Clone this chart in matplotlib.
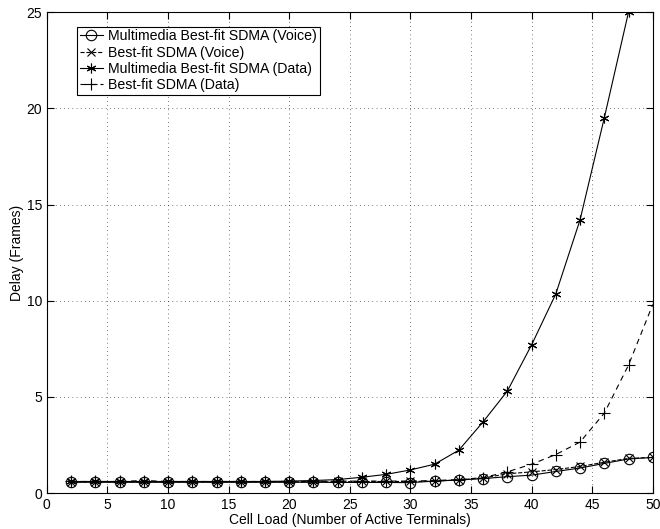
import numpy as np
import matplotlib.pyplot as plt

plt.rcParams['font.family'] = ['Liberation Sans', 'DejaVu Sans']

load = [2, 4, 6, 8, 10, 12, 14, 16, 18, 20, 22, 24, 26, 28, 30, 32, 34, 36, 38, 40, 42, 44, 46, 48, 50]

mm_voice = [0.56, 0.56, 0.56, 0.56, 0.56, 0.56, 0.56, 0.56, 0.56, 0.56, 0.56, 0.55, 0.55, 0.55, 0.54,
            0.62, 0.68, 0.75, 0.85, 0.93, 1.12, 1.3, 1.54, 1.77, 1.85]
bf_voice = [0.58, 0.58, 0.58, 0.58, 0.58, 0.58, 0.58, 0.58, 0.58, 0.58, 0.58, 0.58, 0.6, 0.6, 0.6,
            0.62, 0.68, 0.78, 1.0, 1.1, 1.22, 1.38, 1.6, 1.8, 1.85]
load_mm_data = load[:-1]
mm_data = [0.6, 0.6, 0.6, 0.6, 0.6, 0.6, 0.6, 0.6, 0.6, 0.62, 0.65, 0.7, 0.82, 0.97, 1.2,
           1.5, 2.23, 3.7, 5.3, 7.7, 10.35, 14.2, 19.5, 25.0]
bf_data = [0.6, 0.6, 0.6, 0.65, 0.6, 0.6, 0.6, 0.6, 0.6, 0.6, 0.6, 0.62, 0.62, 0.62, 0.62,
           0.65, 0.7, 0.8, 1.1, 1.5, 2.0, 2.65, 4.15, 6.65, 9.8]

fig = plt.figure(figsize=(6.6, 5.29), dpi=100)
ax = fig.add_axes([0.071, 0.068, 0.918, 0.909])

asterisk = (6, 2, 0)
ax.plot(load, mm_voice, '-', color='black', lw=0.8, marker='o', mfc='none', ms=7.5, mew=0.8,
        label='Multimedia Best-fit SDMA (Voice)')
ax.plot(load, bf_voice, '--', color='black', lw=0.8, marker='x', ms=5.5, mew=0.8,
        label='Best-fit SDMA (Voice)')
ax.plot(load_mm_data, mm_data, '-', color='black', lw=0.8, marker=asterisk, ms=7, mew=0.8,
        label='Multimedia Best-fit SDMA (Data)')
ax.plot(load, bf_data, '--', color='black', lw=0.8, marker='+', ms=9, mew=0.8,
        label='Best-fit SDMA (Data)', dashes=(5, 4))

ax.set_xlim(0, 50)
ax.set_ylim(0, 25)
ax.set_xticks(np.arange(0, 51, 5))
ax.set_yticks(np.arange(0, 26, 5))
ax.tick_params(direction='in', top=True, right=True, labelsize=10, length=5)
ax.grid(True, linestyle=(0, (1, 5)), color='black', lw=0.5)
ax.set_xlabel('Cell Load (Number of Active Terminals)', fontsize=10, labelpad=1)
ax.set_ylabel('Delay (Frames)', fontsize=10, labelpad=2)

leg = ax.legend(loc='upper left', bbox_to_anchor=(0.05, 0.97), fontsize=10.2, frameon=True,
                fancybox=False, edgecolor='black', framealpha=1, handlelength=1.6,
                handletextpad=0.4, borderpad=0.2, labelspacing=0.15, borderaxespad=0)
leg.get_frame().set_linewidth(0.8)

fig.savefig('out.png', dpi=100)
